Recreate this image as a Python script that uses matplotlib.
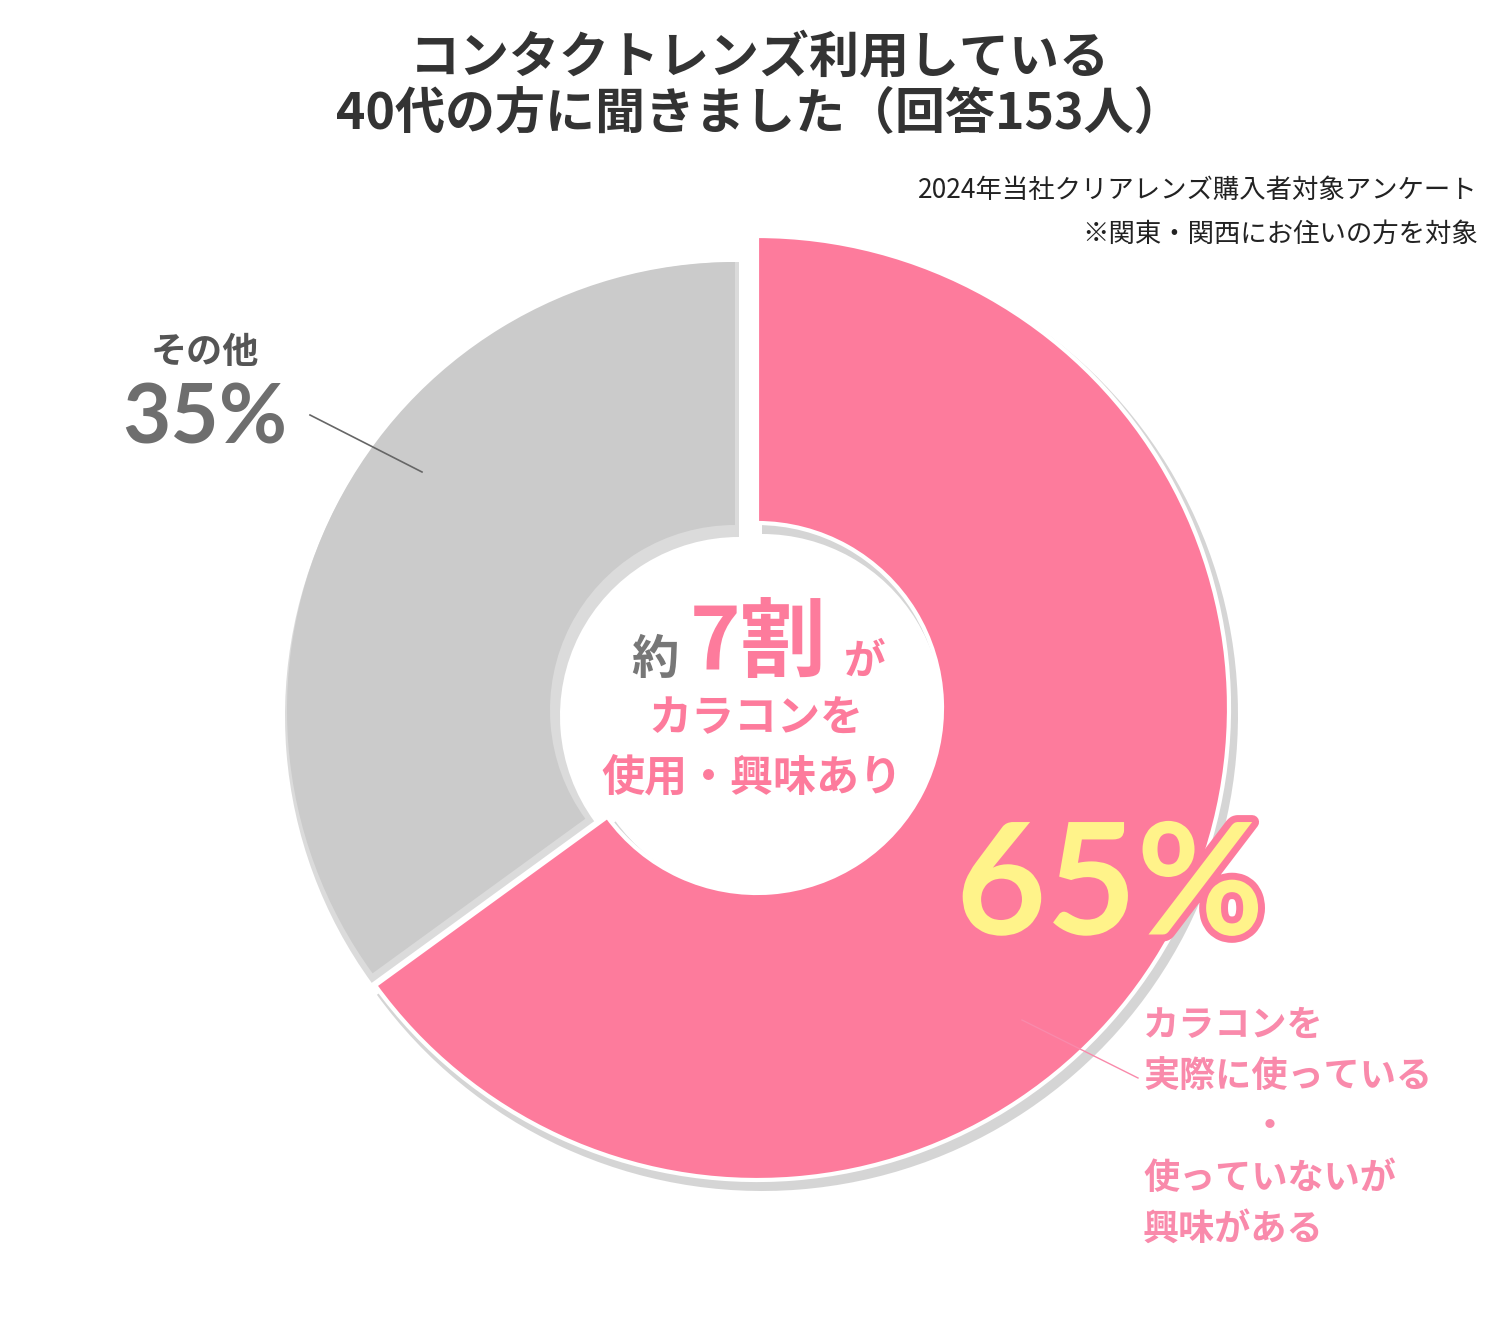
import matplotlib.pyplot as plt
from matplotlib.patches import Wedge
import matplotlib.patheffects as pe

plt.rcParams['font.family'] = 'Noto Sans CJK JP'

W, H = 1500, 1317
labels = ['カラコンを使用・興味あり', 'その他']
shares = [65, 35]
colors = ['#fd7b9c', '#cbcbcb']
title_lines = ['コンタクトレンズ利用している', '40代の方に聞きました（回答153人）']
note_lines = ['2024年当社クリアレンズ購入者対象アンケート', '※関東・関西にお住いの方を対象']
pink_label = ['カラコンを', '実際に使っている', '・', '使っていないが', '興味がある']

fig = plt.figure(figsize=(15, 13.17), dpi=100)
ax = fig.add_axes([0, 0, 1, 1])
ax.set_xlim(0, W)
ax.set_ylim(0, H)
ax.axis('off')

def y(py):
    return H - py

# angles: pink clockwise from 12 o'clock
span = 360 * shares[0] / 100
start = 90 - span
inner = 185
# gray slice (slightly smaller, shifted)
gc, gr = (735, y(710)), 448
ax.add_patch(Wedge((gc[0] + 4, gc[1] - 6), gr + 6, 90, start + 360, width=gr - inner + 12,
                   color='#999999', alpha=0.35, lw=0))
ax.add_patch(Wedge(gc, gr, 90, start + 360, width=gr - inner, color=colors[1], lw=0))
# pink slice with shadow
pc, pr = (757, y(708)), 472
ax.add_patch(Wedge((pc[0] + 5, pc[1] - 7), pr + 4, start, 90, width=pr - inner + 8,
                   color='#888888', alpha=0.35, lw=0))
ax.add_patch(Wedge(pc, pr, start, 90, width=pr - inner, facecolor=colors[0],
                   edgecolor='white', lw=3))

# title
ax.text(760, y(58), title_lines[0], ha='center', va='center', fontsize=36,
        fontweight='bold', color='#333333')
ax.text(760, y(115), title_lines[1], ha='center', va='center', fontsize=36,
        fontweight='bold', color='#333333')
ax.text(1478, y(190), note_lines[0], ha='right', va='center', fontsize=19, color='#222222')
ax.text(1478, y(234), note_lines[1], ha='right', va='center', fontsize=19, color='#222222')

# center text
ax.text(655, y(660), '約', ha='center', va='center', fontsize=34, fontweight='bold', color='#777777')
ax.text(758, y(645), '7割', ha='center', va='center', fontsize=62, fontweight='bold', color=colors[0])
ax.text(865, y(662), 'が', ha='center', va='center', fontsize=30, fontweight='bold', color=colors[0])
ax.text(756, y(718), 'カラコンを', ha='center', va='center', fontsize=31, fontweight='bold', color=colors[0])
ax.text(752, y(778), '使用・興味あり', ha='center', va='center', fontsize=31, fontweight='bold', color=colors[0])

# 65%
ax.text(1110, y(890), '65%', ha='center', va='center', fontsize=112, fontweight='bold',
        color='#fff38a', family='Lato',
        path_effects=[pe.withStroke(linewidth=10, foreground=colors[0])])
for i, t in enumerate(pink_label):
    x0 = 1270 if t == '・' else 1143
    ha = 'center' if t == '・' else 'left'
    ax.text(x0, y(1025 + i * 51), t, ha=ha, va='center', fontsize=26,
            fontweight='bold', color='#f98aab')
ax.plot([1022, 1138], [y(1020), y(1078)], color='#f98aab', lw=1)

# other
ax.text(205, y(352), 'その他', ha='center', va='center', fontsize=26, fontweight='bold', color='#555555')
ax.text(205, y(420), '35%', ha='center', va='center', fontsize=60, fontweight='bold',
        color='#6e6e6e', family='Lato')
ax.plot([310, 422], [y(415), y(472)], color='#666666', lw=1.2)

fig.savefig('out.png', dpi=100)
